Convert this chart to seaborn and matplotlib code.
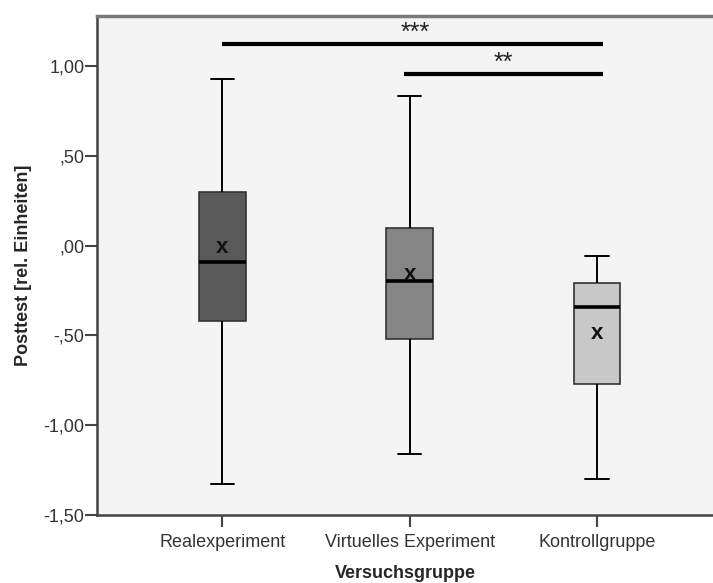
import matplotlib
matplotlib.use("Agg")
import matplotlib.pyplot as plt
import numpy as np
import pandas as pd
import seaborn as sns

# Five-number summaries per group (min, Q1, median, Q3, max) and group means
groups = ["Realexperiment", "Virtuelles Experiment", "Kontrollgruppe"]
mins = [-1.33, -1.16, -1.30]
q1s = [-0.42, -0.52, -0.77]
medians = [-0.09, -0.20, -0.34]
q3s = [0.30, 0.10, -0.21]
maxs = [0.93, 0.83, -0.06]
means = [-0.01, -0.16, -0.49]

box_colors = ["#595959", "#858585", "#c8c8c8"]
yticks = [1.0, 0.5, 0.0, -0.5, -1.0, -1.5]
ytick_labels = ["1,00", ",50", ",00", "-,50", "-1,00", "-1,50"]

# Significance brackets: (from group, to group, height, label)
sig_from = [0, 1]
sig_to = [2, 2]
sig_y = [1.124, 0.955]
sig_labels = ["***", "**"]

rows = []
for g, a, b, c, d, e in zip(groups, mins, q1s, medians, q3s, maxs):
    for v in (a, b, c, d, e):
        rows.append({"Versuchsgruppe": g, "Posttest": v})
df = pd.DataFrame(rows)

sns.set_theme(style="white")
plt.rcParams["font.family"] = ["Liberation Sans", "DejaVu Sans"]

fig = plt.figure(figsize=(7.13, 5.83), dpi=100)
ax = fig.add_axes([97 / 713, 1 - 515 / 583, 1 - 97 / 713, (515 - 16) / 583])
ax.set_facecolor("#f4f4f4")

sns.boxplot(
    data=df, x="Versuchsgruppe", y="Posttest", hue="Versuchsgruppe",
    order=groups, hue_order=groups, palette=box_colors, legend=False,
    whis=(0, 100), width=0.25, linewidth=1.2, linecolor="#333333",
    medianprops={"color": "black", "linewidth": 2.6},
    whiskerprops={"color": "black", "linewidth": 1.4},
    capprops={"color": "black", "linewidth": 1.4},
    saturation=1, ax=ax,
)

# Group means drawn as an "x"
for i, m in enumerate(means):
    ax.text(i, m, "x", ha="center", va="center", fontsize=16,
            fontweight="bold", color="#111111")

# Significance bars
for f, t, y, lab in zip(sig_from, sig_to, sig_y, sig_labels):
    ax.plot([f - 0.03 if f == 1 else f, t + 0.03], [y, y], color="black",
            linewidth=3, solid_capstyle="butt")
    ax.text((f + t) / 2 + (0.03 if f == 0 else 0.0), y + 0.06, lab,
            ha="center", va="center", fontsize=18, color="#222222")

ax.set_xlim(-0.67, 2.62)
ax.set_ylim(-1.5, 1.278)
ax.set_yticks(yticks)
ax.set_yticklabels(ytick_labels)

ax.tick_params(axis="both", direction="out", length=8.5, width=1.5,
               color="#444444", labelsize=13, labelcolor="#333333",
               left=True, bottom=True)
ax.tick_params(axis="y", pad=0.5)
ax.tick_params(axis="x", pad=5)
for side in ("left", "bottom"):
    ax.spines[side].set_color("#444444")
    ax.spines[side].set_linewidth(1.8)
ax.spines["top"].set_color("#7a7a7a")
ax.spines["top"].set_linewidth(2.5)
ax.spines["right"].set_visible(False)

ax.set_xlabel("Versuchsgruppe", fontsize=13, fontweight="bold", labelpad=10)
ax.set_ylabel("Posttest [rel. Einheiten]", fontsize=13, fontweight="bold",
              labelpad=8)

fig.savefig("out.png", dpi=100, facecolor="white")
